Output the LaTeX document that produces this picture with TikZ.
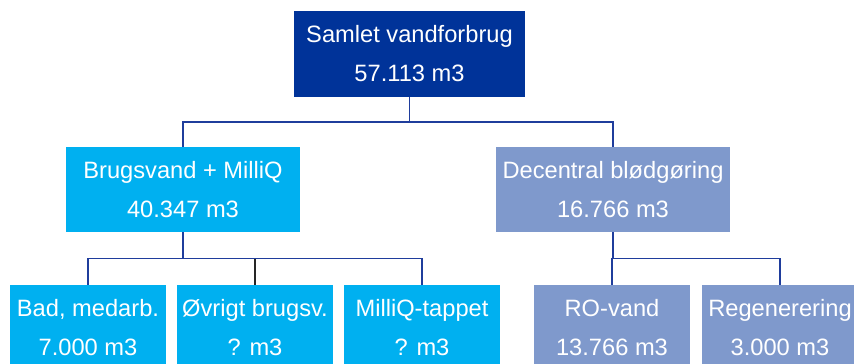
\documentclass[tikz,border=0pt]{standalone}
\usepackage{fontspec}
\setmainfont{Liberation Sans}
\usepackage{tikz}
\usetikzlibrary{positioning,calc}
\definecolor{navy}{HTML}{003399}
\definecolor{skyblue}{HTML}{00B0F0}
\definecolor{greyblue}{HTML}{7F99CC}
\definecolor{linkblue}{HTML}{1F3D9C}
\definecolor{linkdark}{HTML}{262626}
\tikzset{
  box/.style={text=white,inner sep=0pt,align=center,
              font=\fontsize{20.2}{33.3}\selectfont},
  rootbox/.style={box,fill=navy,minimum width=6.93cm,minimum height=2.58cm},
  midbox/.style={box,minimum width=7.02cm,minimum height=2.55cm},
  leafbox/.style={box,minimum width=4.68cm,minimum height=2.58cm},
  link/.style={line width=1.7pt,linkblue},
  elbow/.style={to path={(\tikztostart)
      |- ($(\tikztostart)!0.5!(\tikztostart|-\tikztotarget)$)
      -| (\tikztotarget)}},
}

\begin{document}
\begin{tikzpicture}
  \clip (0,0) rectangle (25.62,-10.92);
  \useasboundingbox (0,0) rectangle (25.62,-10.92);

  % top level
  \node[rootbox] (total) at (12.285,-1.62) {Samlet vandforbrug\\57.113 m3};

  % second level
  \node[midbox,fill=skyblue] (brugs) at (5.49,-5.685)
    {Brugsvand + MilliQ\\40.347 m3};
  \node[midbox,fill=greyblue] (decent) at (18.39,-5.685)
    {Decentral blødgøring\\16.766 m3};

  % third level
  \foreach \nm/\x/\clr/\txt in {%
    bad/2.64/skyblue/{Bad, medarb.\\7.000 m3},%
    ovrigt/7.65/skyblue/{Øvrigt brugsv.\\? m3},%
    milliq/12.66/skyblue/{MilliQ-tappet\\? m3},%
    ro/18.36/greyblue/{RO-vand\\13.766 m3},%
    regen/23.4/greyblue/{Regenerering\\3.000 m3}%
  }{%
    \node[leafbox,fill=\clr] (\nm) at (\x,-9.84) {\txt};
  }

  % connectors (dark one first, blue ones on top)
  \draw[link,linkdark] (brugs.south) to[elbow] (ovrigt.north);
  \draw[link] (total.south) to[elbow] (brugs.north);
  \draw[link] (total.south) to[elbow] (decent.north);
  \draw[link] (brugs.south) to[elbow] (bad.north);
  \draw[link] (brugs.south) to[elbow] (milliq.north);
  \draw[link] (decent.south) to[elbow] (ro.north);
  \draw[link] (decent.south) to[elbow] (regen.north);
\end{tikzpicture}
\end{document}
